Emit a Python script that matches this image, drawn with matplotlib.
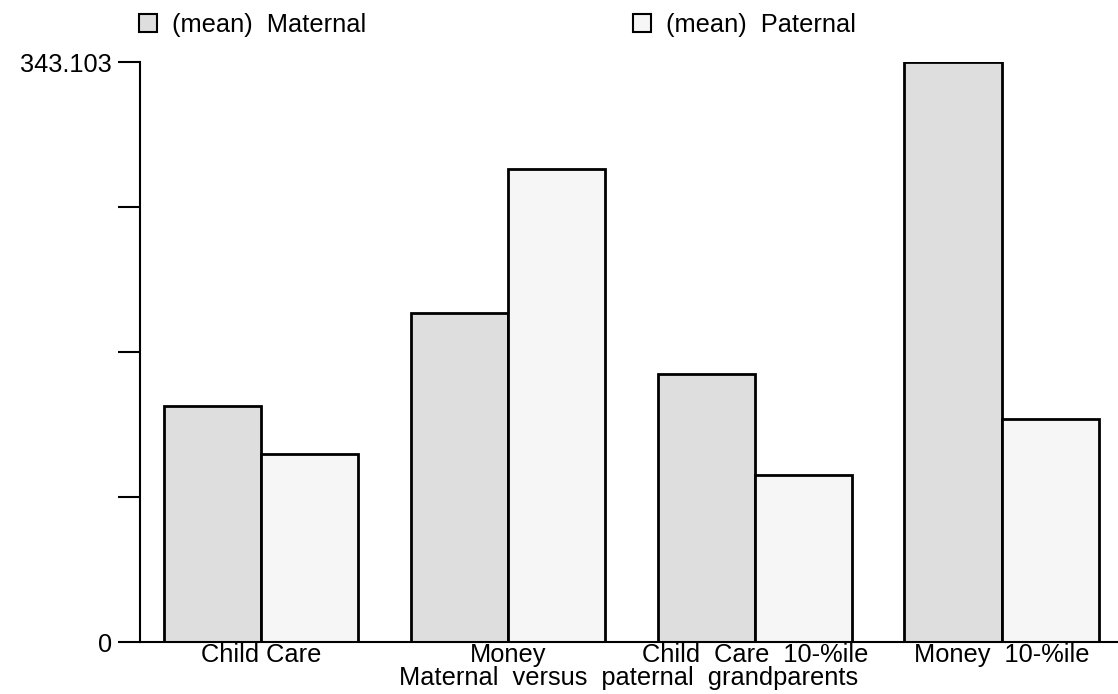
import matplotlib.pyplot as plt
import numpy as np

plt.rcParams['font.family'] = ['Liberation Sans', 'DejaVu Sans']

# data
groups = ["Child Care", "Money", "Child  Care  10-%ile", "Money  10-%ile"]
maternal = [139.6, 194.6, 158.5, 343.103]
paternal = [111.2, 279.8, 98.8, 131.9]
ymax = 343.103

fig = plt.figure(figsize=(11.18, 6.94), dpi=100)
ax = fig.add_axes([140 / 1118, 1 - 642 / 694, 1 - 140 / 1118, (642 - 62) / 694])

x = np.arange(len(groups))
w = 0.393
b1 = ax.bar(x - 0.198, maternal, w, color="#dedede", edgecolor="black", linewidth=2)
b2 = ax.bar(x + 0.198, paternal, w, color="#f6f6f6", edgecolor="black", linewidth=2)

fs = 18.3
ax.set_xlim(-0.49, 3.47)
ax.set_ylim(0, ymax)
ax.set_yticks(np.linspace(0, ymax, 5))
ax.set_yticklabels(["0", "", "", "", "343.103"], fontsize=fs)
ax.tick_params(axis="y", length=16, width=1.5, pad=4)
ax.set_xticks(x)
ax.set_xticklabels(groups, fontsize=fs)
ax.tick_params(axis="x", length=0, pad=0.5)
ax.set_xlabel("Maternal  versus  paternal  grandparents", fontsize=fs, va="baseline")
ax.xaxis.set_label_coords(0.5, -(685 - 642) / 580)

for s in ["top", "right"]:
    ax.spines[s].set_visible(False)
ax.spines["left"].set_linewidth(1.5)
ax.spines["bottom"].set_linewidth(1.5)
ax.spines["bottom"].set_zorder(5)

leg1 = fig.legend([b1], ["(mean)  Maternal"], loc="center left", bbox_to_anchor=(116 / 1118, 1 - 25 / 694),
                  frameon=False, fontsize=fs, handlelength=0.7, handleheight=0.7, handletextpad=0.6)
leg2 = fig.legend([b2], ["(mean)  Paternal"], loc="center left", bbox_to_anchor=(610 / 1118, 1 - 25 / 694),
                  frameon=False, fontsize=fs, handlelength=0.7, handleheight=0.7, handletextpad=0.6)
for leg in (leg1, leg2):
    for p in leg.get_patches():
        p.set_linewidth(1.5)

fig.savefig("out.png", dpi=100)
